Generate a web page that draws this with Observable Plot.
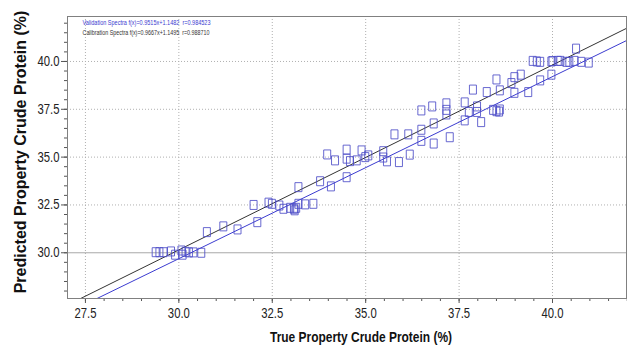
<!DOCTYPE html>
<html><head><meta charset="utf-8">
<script src="https://cdn.jsdelivr.net/npm/d3@7"></script>
<script src="https://cdn.jsdelivr.net/npm/@observablehq/plot@0.6"></script>
<style>
body{margin:0;background:#fff;}
#chart svg{display:block;}
</style>
</head><body><div id="chart"></div>
<script>
// True vs predicted crude protein (%)
const trueX = [
  29.38,29.48,29.59,29.79,29.90,30.07,30.10,30.18,30.27,30.39,30.60,
  30.75,31.19,31.57,32.00,32.10,32.40,32.49,32.69,32.80,32.98,33.08,33.10,33.14,33.20,33.20,33.38,33.60,33.78,34.07,34.49,
  33.97,34.18,34.49,34.49,34.58,34.76,34.89,34.99,35.07,35.47,35.47,35.57,35.89,36.18,
  35.77,36.14,36.49,36.49,36.82,36.82,37.25,
  36.49,36.78,37.16,37.16,37.16,37.65,37.76,37.65,37.98,37.98,38.09,38.41,38.50,38.57,38.59,
  37.87,38.24,38.59,38.50,38.90,38.98,39.35,38.98,39.15,39.67,39.97,
  39.47,39.58,39.67,39.97,40.00,40.14,40.21,40.37,40.45,40.59,40.63,40.77,40.97
];
const predY = [
  30.03,30.03,30.03,30.07,29.90,30.12,29.90,30.05,30.02,30.02,30.00,
  31.08,31.38,31.22,32.50,31.60,32.62,32.56,32.47,32.30,32.35,32.30,32.22,32.35,32.56,33.43,32.53,32.56,33.74,33.47,33.95,
  35.14,34.83,35.39,34.92,34.79,34.83,35.35,35.00,35.09,35.31,34.98,34.78,34.74,35.13,
  36.19,36.19,36.43,35.85,36.76,35.71,36.04,
  37.44,37.65,37.81,37.47,37.23,37.86,37.36,36.92,37.65,37.36,36.83,37.47,37.40,37.38,37.49,
  38.53,38.40,38.49,39.06,38.87,38.36,38.40,39.18,39.31,39.01,39.31,
  40.03,40.00,39.98,40.00,40.02,40.03,40.03,39.98,39.98,40.03,40.67,39.98,39.94
];
const seriesNames = ["Validation Spectra", "Calibration Spectra"];
const slopes = [0.9515, 0.9667];
const intercepts = [1.1482, 1.1495];
const rValues = ["0.984523", "0.988710"];
const xTicks = [27.5, 30.0, 32.5, 35.0, 37.5, 40.0];
const yTicks = [30.0, 32.5, 35.0, 37.5, 40.0];
const xLabel = "True Property Crude Protein (%)";
const yLabel = "Predicted Property Crude Protein (%)";

const xDomain = [27.02, 41.98];
const yDomain = [27.61, 42.35];
const seriesColors = ["#3b3bd0", "#333333"];

const points = trueX.map((x, i) => ({x, y: predY[i]}));
const lineData = seriesNames.flatMap((name, i) =>
  xDomain.map(x => ({series: name, x, y: slopes[i] * x + intercepts[i]})));
const legendData = seriesNames.map((name, i) => ({
  name, text: `${name} f(x)=${slopes[i]}x+${intercepts[i]}\u00a0\u00a0r=${rValues[i]}`, color: seriesColors[i]
}));

const rectSymbol = {draw(ctx) { ctx.rect(-3.5, -4.5, 7, 9); }};
const sans = "'Liberation Sans',Arial,sans-serif";

const chart = Plot.plot({
  width: 627, height: 345,
  marginLeft: 67, marginTop: 16, marginRight: 1, marginBottom: 47,
  style: {fontFamily: sans, fontSize: "14px", background: "#fff", color: "#222"},
  x: {domain: xDomain, label: null},
  y: {domain: yDomain, label: null},
  marks: [
    Plot.gridX(xTicks, {stroke: "#b0b0b0", strokeOpacity: 1, strokeDasharray: "1,2"}),
    Plot.gridY(yTicks.filter(v => v !== 30), {stroke: "#b0b0b0", strokeOpacity: 1, strokeDasharray: "1,2"}),
    Plot.ruleY([30], {stroke: "#a8a8a8"}),
    Plot.line(lineData, {x: "x", y: "y", z: "series", stroke: d => seriesColors[seriesNames.indexOf(d.series)], strokeWidth: 1, clip: true}),
    Plot.dot(points, {x: "x", y: "y", symbol: rectSymbol, stroke: "#4d4dc8", strokeOpacity: 0.85, strokeWidth: 1, fill: "none"}),
    Plot.axisX(d3.range(27.5, 42.01, 0.5), {tickSize: 3, text: null, stroke: "#555", label: null}),
    Plot.axisX(xTicks, {tickSize: 5, tickPadding: 5, tickFormat: d3.format(".1f"), fontSize: 14, fill: "#222", stroke: "#555", label: null}),
    Plot.axisY(d3.range(28, 42.01, 0.5), {tickSize: 3, text: null, stroke: "#555", label: null}),
    Plot.axisY(yTicks, {tickSize: 6, tickPadding: 2, tickFormat: d3.format(".1f"), fontSize: 14, fill: "#222", stroke: "#555", label: null}),
    Plot.frame({stroke: "#808080"}),
    Plot.text(legendData, {frameAnchor: "top-left", text: "text", fill: "color", textAnchor: "start", fontSize: 7}),
  ]
});
document.getElementById("chart").appendChild(chart);

// condensed look: squeeze legend rows, tick labels and x title to the reference widths
const svg = d3.select(chart);
svg.selectAll("text").each(function() {
  const t = this.textContent;
  const s = d3.select(this);
  if (t.startsWith("Validation")) s.attr("transform", "translate(82,24)").attr("x", null).attr("y", null).attr("textLength", 128).attr("lengthAdjust", "spacingAndGlyphs");
  else if (t.startsWith("Calibration")) s.attr("transform", "translate(82,34)").attr("x", null).attr("y", null).attr("textLength", 127).attr("lengthAdjust", "spacingAndGlyphs");
  else if (/^\d+\.\d$/.test(t)) s.attr("textLength", 22).attr("lengthAdjust", "spacingAndGlyphs");
});
svg.append("text").attr("x", 361).attr("y", 342).attr("text-anchor", "middle")
  .attr("textLength", 182).attr("lengthAdjust", "spacingAndGlyphs")
  .style("font-family", sans).style("font-weight", "bold").style("font-size", "15px").attr("fill", "#111").text(xLabel);
svg.append("text").attr("transform", "translate(26,152) rotate(-90)").attr("text-anchor", "middle")
  .style("font-family", sans).style("font-weight", "bold").style("font-size", "16px").attr("fill", "#111").text(yLabel);
</script>
</body></html>
